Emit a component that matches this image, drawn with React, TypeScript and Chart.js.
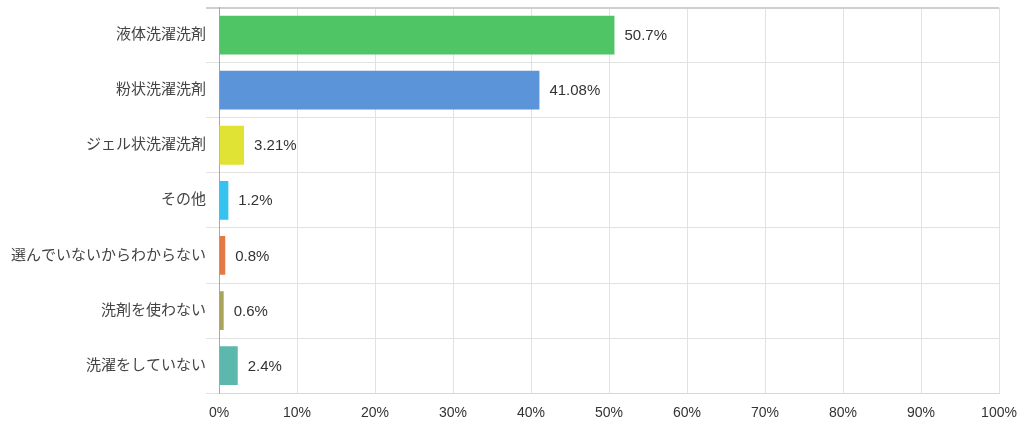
import React, { useEffect, useRef } from 'react';
import { Chart, registerables } from 'chart.js';

Chart.register(...registerables);

const categories = [
    '液体洗濯洗剤',
    '粉状洗濯洗剤',
    'ジェル状洗濯洗剤',
    'その他',
    '選んでいないからわからない',
    '洗剤を使わない',
    '洗濯をしていない'
];
const shares = [50.7, 41.08, 3.21, 1.2, 0.8, 0.6, 2.4];
const barColors = [
    '#4fc565',
    '#5b94d9',
    '#e0e234',
    '#35c2ee',
    '#e27a46',
    '#a9a45b',
    '#5cb8ad'
];

const fontFamily = "'Liberation Sans', Arial, 'Noto Sans CJK JP', sans-serif";

const valueLabels = {
    id: 'valueLabels',
    afterDatasetsDraw(chart: any) {
        const ctx = chart.ctx;
        const meta = chart.getDatasetMeta(0);
        ctx.save();
        ctx.font = `15px ${fontFamily}`;
        ctx.fillStyle = '#333';
        ctx.textAlign = 'left';
        ctx.textBaseline = 'middle';
        meta.data.forEach((bar: any, i: number) => {
            ctx.fillText(shares[i] + '%', bar.x + 10, bar.y + 1);
        });
        ctx.restore();
    }
};

export default function App() {
    const canvas = useRef<HTMLCanvasElement>(null);

    useEffect(() => {
        document.body.style.margin = '0';
        const chart = new Chart(canvas.current!, {
            type: 'bar',
            data: {
                labels: categories,
                datasets: [{
                    data: shares,
                    backgroundColor: barColors,
                    barPercentage: 0.88,
                    categoryPercentage: 0.8
                }]
            },
            options: {
                indexAxis: 'y',
                animation: false,
                responsive: true,
                maintainAspectRatio: false,
                layout: { padding: { top: 0, right: 25, bottom: 5 } },
                plugins: {
                    legend: { display: false },
                    tooltip: { enabled: false }
                },
                scales: {
                    x: {
                        min: 0,
                        max: 100,
                        ticks: {
                            stepSize: 10,
                            padding: 0,
                            color: '#333',
                            font: { size: 14, family: fontFamily },
                            callback: (v: any) => v + '%'
                        },
                        grid: { color: '#e2e2e2', tickColor: 'rgba(0,0,0,0)', tickLength: 12 },
                        border: { color: '#d8d8d8' }
                    },
                    y: {
                        afterFit: (scale: any) => { scale.width = 219; },
                        ticks: {
                            padding: 0,
                            color: '#444',
                            font: { size: 15, family: fontFamily, lineHeight: 1 }
                        },
                        grid: {
                            color: (c: any) => c.index === 0 ? '#cfcfcf' : '#e2e2e2',
                            lineWidth: (c: any) => c.index === 0 ? 2 : 1,
                            tickLength: 13
                        },
                        border: { color: '#a8a8a8' }
                    }
                }
            },
            plugins: [valueLabels]
        });
        return () => {
            chart.destroy();
        };
    }, []);

    return (
        <div style={{ width: 1024, height: 427, position: 'relative' }}>
            <canvas ref={canvas} />
        </div>
    );
}
